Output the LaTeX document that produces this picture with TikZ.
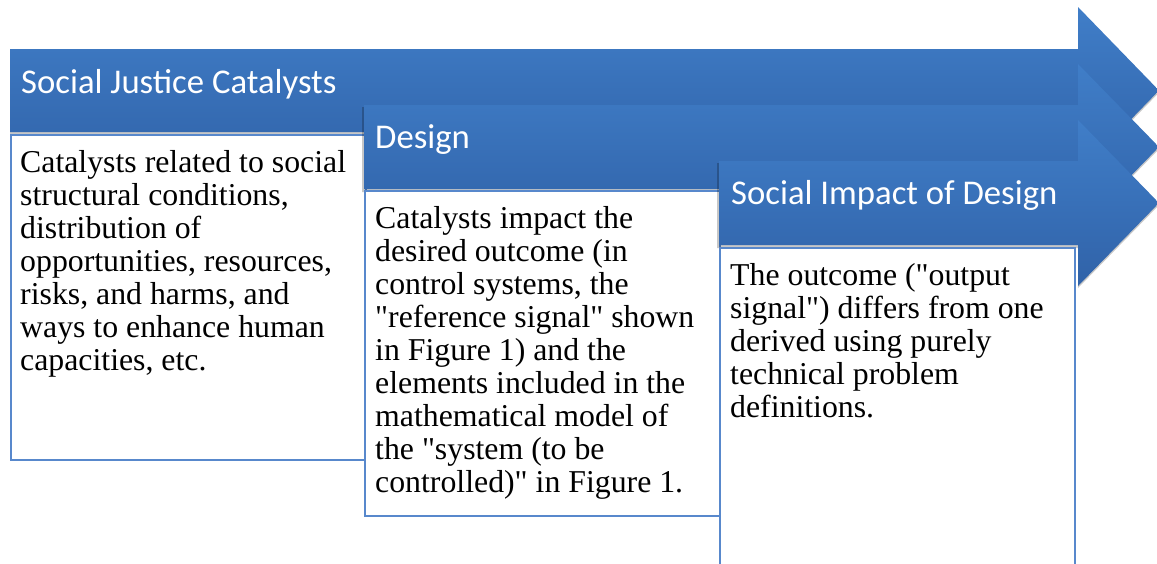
\documentclass[tikz,border=0pt]{standalone}
\usepackage{fontspec}
\setmainfont{Liberation Serif}
\newfontfamily\headfont{Carlito}
\definecolor{arrtop}{RGB}{64,126,200}
\definecolor{arrbot}{RGB}{48,98,168}
\definecolor{boxline}{RGB}{88,136,204}
\begin{document}
\begin{tikzpicture}[x=1pt,y=-1pt,
  arrowshape/.style={top color=arrtop,bottom color=arrbot,draw=none},
  shadowshape/.style={fill=black,opacity=0.22},
  headtext/.style={anchor=base west,inner sep=0pt,text=white,font=\headfont\fontsize{34.7}{40}\selectfont},
  textbox/.style={draw=boxline,line width=1.5pt,fill=white,anchor=north west,inner sep=0pt,minimum width=355pt,minimum height=325pt},
  bodytext/.style={anchor=base west,inner sep=0pt,font=\fontsize{31.8}{33}\selectfont}]
\useasboundingbox (0,0) rectangle (1157,563);
% arrow 1
\fill[shadowshape] (10,51) -- (1078,51) -- (1078,9) -- (1159,92.5) -- (1078,176) -- (1078,135) -- (10,135) -- cycle;
\shade[arrowshape] (10,49) -- (1078,49) -- (1078,7) -- (1159,90.5) -- (1078,174) -- (1078,132) -- (10,132) -- cycle;
\node[headtext] (h1) at (21,93) {Social Justice Catalysts};
\node[textbox] (b1) at (10,134) {};
\node[bodytext] (t1) at (20,172) {\vtop{\baselineskip=33pt
\hbox{Catalysts related to social}
\hbox{structural conditions,}
\hbox{distribution of}
\hbox{opportunities, resources,}
\hbox{risks, and harms, and}
\hbox{ways to enhance human}
\hbox{capacities, etc.}}};
% arrow 2
\fill[shadowshape] (362,107) -- (1078,107) -- (1078,66) -- (1159,149) -- (1078,232) -- (1078,192) -- (362,192) -- cycle;
\shade[arrowshape] (364,105) -- (1078,105) -- (1078,64) -- (1159,147) -- (1078,230) -- (1078,189) -- (364,189) -- cycle;
\node[headtext] (h2) at (375,148) {Design};
\node[textbox] (b2) at (364,190) {};
\node[bodytext] (t2) at (375,228) {\vtop{\baselineskip=33pt
\hbox{Catalysts impact the}
\hbox{desired outcome (in}
\hbox{control systems, the}
\hbox{\textquotedbl reference signal\textquotedbl{} shown}
\hbox{in Figure 1) and the}
\hbox{elements included in the}
\hbox{mathematical model of}
\hbox{the \textquotedbl system (to be}
\hbox{controlled)\textquotedbl{} in Figure 1.}}};
% arrow 3
\fill[shadowshape] (717,163) -- (1078,163) -- (1078,122) -- (1159,205) -- (1078,288) -- (1078,248) -- (717,248) -- cycle;
\shade[arrowshape] (719,161) -- (1078,161) -- (1078,120) -- (1159,203) -- (1078,286) -- (1078,245) -- (719,245) -- cycle;
\node[headtext] (h3) at (731,204) {Social Impact of Design};
\node[textbox] (b3) at (719,247) {};
\node[bodytext] (t3) at (730,285) {\vtop{\baselineskip=33pt
\hbox{The outcome (\textquotedbl output}
\hbox{signal\textquotedbl) differs from one}
\hbox{derived using purely}
\hbox{technical problem}
\hbox{definitions.}}};
\end{tikzpicture}
\end{document}
